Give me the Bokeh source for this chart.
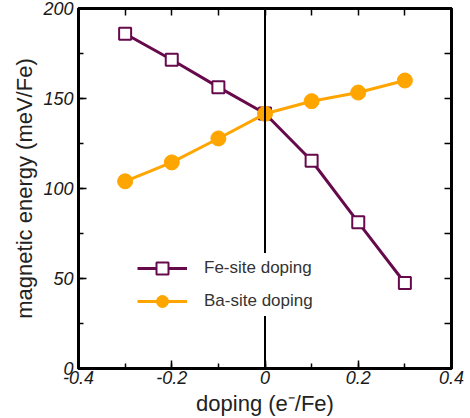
from bokeh.plotting import figure
from bokeh.models import (Range1d, LinearAxis, Span, Legend, LegendItem,
                          FixedTicker)
from bokeh.embed import file_html
from bokeh.resources import INLINE

# Data
doping = [-0.3, -0.2, -0.1, 0.0, 0.1, 0.2, 0.3]
fe_site = [186, 171.5, 156.3, 141.7, 115.4, 81.2, 47.5]
ba_site = [104, 114.5, 127.8, 141.5, 148.5, 153.3, 160.0]
x_ticks = [-0.4, -0.2, 0.0, 0.2, 0.4]
x_minor = [-0.4, -0.3, -0.2, -0.1, 0.0, 0.1, 0.2, 0.3, 0.4]
y_ticks = [0, 50, 100, 150, 200]
y_minor = [0, 25, 50, 75, 100, 125, 150, 175, 200]

FE_COLOR = "#660a4c"
BA_COLOR = "#ffa500"
FONT = "Liberation Sans"

p = figure(width=465, height=418, output_backend="svg", toolbar_location=None,
           x_range=Range1d(-0.4, 0.4), y_range=Range1d(0, 200),
           min_border_left=78, min_border_right=14, min_border_top=8,
           min_border_bottom=8)
p.xgrid.visible = False
p.ygrid.visible = False
p.outline_line_color = "black"
p.outline_line_width = 3


def base_axis(ax):
    ax.axis_line_width = 3
    ax.axis_line_color = "black"
    ax.major_tick_out = 0
    ax.minor_tick_out = 0
    ax.major_tick_line_width = 1.5
    ax.minor_tick_line_width = 1.5
    ax.major_tick_line_color = "black"
    ax.minor_tick_line_color = "black"


def labelled_axis(ax, ticks, minor):
    base_axis(ax)
    ax.ticker = FixedTicker(ticks=ticks, minor_ticks=minor)
    ax.major_tick_in = 8
    ax.minor_tick_in = 5
    ax.major_label_text_font = FONT
    ax.major_label_text_font_style = "italic"
    ax.major_label_text_font_size = "18px"
    ax.major_label_text_color = "#1a1a1a"
    ax.axis_label_text_font = FONT
    ax.axis_label_text_font_style = "normal"
    ax.axis_label_text_font_size = "22px"
    ax.axis_label_text_color = "#222222"


def bare_axis(ax, minor):
    base_axis(ax)
    ax.ticker = FixedTicker(ticks=[], minor_ticks=minor)
    ax.major_tick_in = 0
    ax.minor_tick_in = 7


xa = p.xaxis[0]
ya = p.yaxis[0]
labelled_axis(xa, x_ticks, x_minor)
labelled_axis(ya, y_ticks, y_minor)
xa.axis_label = "doping (e\u207b/Fe)"
ya.axis_label = "magnetic energy (meV/Fe)"
xa.major_label_standoff = 2
ya.major_label_standoff = 5
xa.axis_label_standoff = 4
ya.axis_label_standoff = 3
xa.major_label_overrides = {-0.4: "-0.4", -0.2: "-0.2", 0: "0", 0.2: "0.2", 0.4: "0.4"}

top = LinearAxis()
right = LinearAxis()
bare_axis(top, x_minor)
bare_axis(right, y_minor)
p.add_layout(top, "above")
p.add_layout(right, "right")

fe_line = p.line(doping, fe_site, line_color=FE_COLOR, line_width=3)
fe_sq = p.scatter(doping, fe_site, marker="square", size=12, fill_color="white",
                  line_color=FE_COLOR, line_width=2)
ba_line = p.line(doping, ba_site, line_color=BA_COLOR, line_width=3)
ba_pt = p.scatter(doping, ba_site, marker="circle", size=15, fill_color=BA_COLOR,
                  line_color=BA_COLOR)

zero = Span(location=0, dimension="height", line_color="black", line_width=2)
p.add_layout(zero)

legend = Legend(items=[
    LegendItem(label="Fe-site doping", renderers=[fe_line, fe_sq]),
    LegendItem(label="Ba-site doping", renderers=[ba_line, ba_pt]),
], location=(59, 52))
legend.border_line_color = None
legend.background_fill_color = "white"
legend.background_fill_alpha = 1.0
legend.glyph_width = 50
legend.glyph_height = 30
legend.label_height = 30
legend.spacing = 3
legend.padding = 16
legend.margin = 0
legend.label_standoff = 17
legend.label_text_font = FONT
legend.label_text_font_size = "17px"
legend.label_text_color = "#333333"
p.add_layout(legend)

open("out.html", "w").write(file_html(p, INLINE))
